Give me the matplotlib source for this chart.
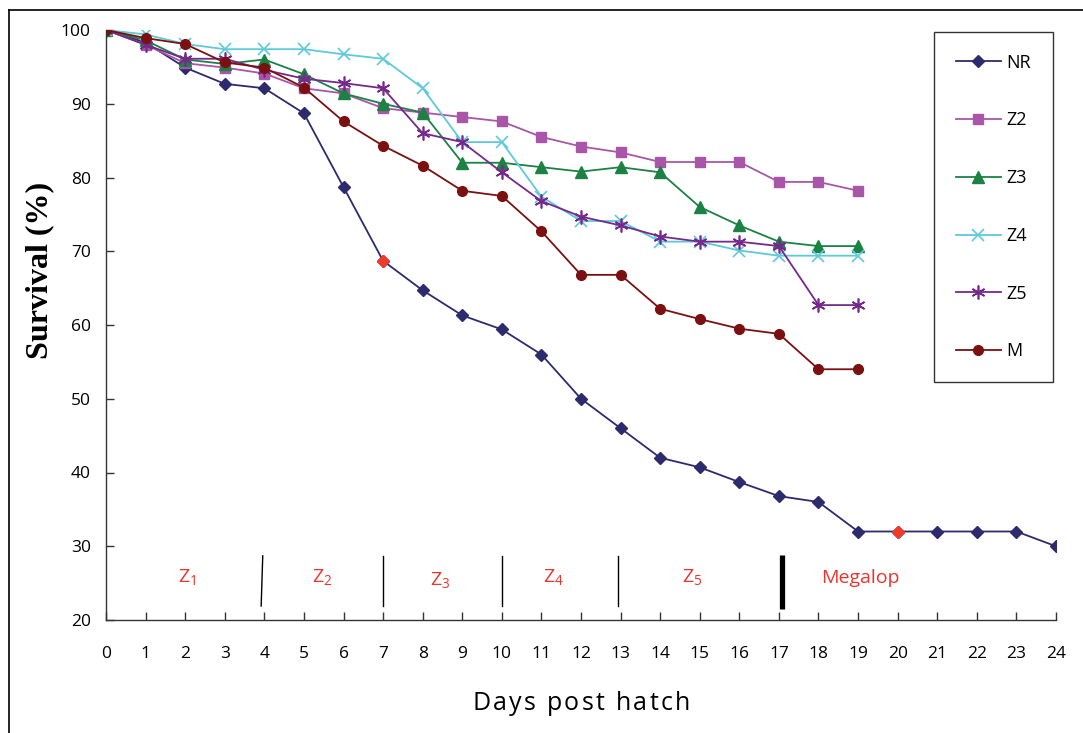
import matplotlib
matplotlib.use("Agg")
import matplotlib.pyplot as plt
from matplotlib.lines import Line2D

# Survival (%) of larvae per day post hatch, by treatment
days = list(range(0, 25))
nr = [100, 98.3, 94.9, 92.7, 92.1, 88.7, 78.7, 68.7, 64.7, 61.3, 59.4, 56.0, 50.0,
      46.0, 42.0, 40.7, 38.7, 36.8, 36.0, 32.0, 32.0, 32.0, 32.0, 32.0, 30.0]
z2 = [100, 98.0, 95.5, 94.9, 94.1, 92.1, 91.4, 89.4, 88.8, 88.2, 87.6, 85.5, 84.2,
      83.4, 82.1, 82.1, 82.1, 79.4, 79.4, 78.2]
z3 = [100, 98.6, 96.0, 95.4, 96.0, 94.0, 91.4, 90.0, 88.8, 82.0, 82.0, 81.4, 80.8,
      81.4, 80.7, 76.0, 73.5, 71.3, 70.7, 70.7]
z4 = [100, 99.4, 98.1, 97.4, 97.4, 97.4, 96.7, 96.1, 92.1, 84.8, 84.8, 77.4, 74.1,
      74.1, 71.3, 71.3, 70.1, 69.4, 69.4, 69.4]
z5 = [100, 98.0, 96.1, 96.1, 94.6, 93.4, 92.8, 92.1, 86.0, 84.8, 80.7, 76.8, 74.7,
      73.5, 72.0, 71.3, 71.3, 70.7, 62.7, 62.7]
m = [100, 98.9, 98.1, 95.6, 94.9, 92.2, 87.6, 84.3, 81.6, 78.2, 77.5, 72.7, 66.8,
     66.8, 62.2, 60.8, 59.5, 58.8, 54.0, 54.0]
nr_highlight_days = [7, 20]

stage_labels = ["Z$_\\mathregular{1}$", "Z$_\\mathregular{2}$", "Z$_\\mathregular{3}$",
                "Z$_\\mathregular{4}$", "Z$_\\mathregular{5}$", "Megalop"]
stage_label_x = [2.05, 5.45, 8.45, 11.3, 14.8, 19.05]
stage_label_y = [25.7, 25.7, 25.3, 25.7, 25.7, 25.7]

plt.rcParams["font.family"] = ["Open Sans", "DejaVu Sans"]
plt.rcParams["mathtext.fontset"] = "custom"
plt.rcParams["mathtext.rm"] = "Open Sans"

fig = plt.figure(figsize=(10.83, 7.33), dpi=100)
ax = fig.add_axes([106 / 1083, 1 - 620 / 733, 950 / 1083, 590 / 733])

series = [
    ("NR", nr, "#2e2a6e", dict(marker="D", ms=6.5)),
    ("Z2", z2, "#a956a8", dict(marker="s", ms=6.5)),
    ("Z3", z3, "#1b8244", dict(marker="^", ms=8)),
    ("Z4", z4, "#5ec9d9", dict(marker="x", ms=8, mew=1.2)),
    ("Z5", z5, "#76288c", dict(marker=(6, 2, 0), ms=10, mew=1.2)),
    ("M", m, "#7b1010", dict(marker="o", ms=7)),
]
for name, vals, col, mk in series:
    ax.plot(days[:len(vals)], vals, color=col, lw=1.3, label=name,
            markerfacecolor=col, markeredgecolor=col, **mk)

ax.plot(nr_highlight_days, [nr[d] for d in nr_highlight_days], linestyle="none",
        marker="D", ms=6.5, color="#f03a2a", zorder=5)

# stage boundaries
ax.plot([3.96, 3.92], [28.7, 21.9], color="black", lw=1.0)
for xb in [7, 10, 12.93]:
    ax.plot([xb, xb], [28.7, 21.9], color="black", lw=1.0)
ax.plot([17.07, 17.07], [28.8, 21.5], color="black", lw=3.8, solid_capstyle="butt")

for lab, xl, yl in zip(stage_labels, stage_label_x, stage_label_y):
    ax.text(xl, yl, lab, color="#e8352d", fontsize=14, ha="center", va="center")

ax.set_xlim(0, 24)
ax.set_ylim(20, 100)
ax.set_xticks(range(0, 25))
ax.set_yticks(range(20, 101, 10))
ax.tick_params(direction="in", length=6, width=1, color="#333333",
               labelsize=12.5, colors="black")
ax.tick_params(axis="y", pad=11)
ax.tick_params(axis="x", pad=19)
for s in ["top", "right"]:
    ax.spines[s].set_visible(False)
for s in ["left", "bottom"]:
    ax.spines[s].set_color("#333333")
    ax.spines[s].set_linewidth(1.0)

fig.text(40 / 1083, 1 - 270 / 733, "Survival (%)", rotation=90, ha="center",
         va="center", fontsize=23, fontweight="bold", family="Liberation Serif")

# x-axis title drawn letter by letter with extra tracking
xtitle = "Days post hatch"
fig.canvas.draw()
renderer = fig.canvas.get_renderer()
tracking = 2.2  # px between letters
pieces = []
total = 0.0
for ch in xtitle:
    t = fig.text(0, 1 - 704 / 733, ch, fontsize=18, va="center", ha="left")
    w = t.get_window_extent(renderer).width if ch != " " else 7.0
    pieces.append((t, w))
    total += w + tracking
total -= tracking
xpos = 581 - total / 2
for t, w in pieces:
    t.set_x(xpos / 1083)
    xpos += w + tracking

leg = ax.legend(loc="upper left", bbox_to_anchor=(934 / 1083, 1 - 32 / 733),
                bbox_transform=fig.transFigure, borderaxespad=0, frameon=True,
                fancybox=False, edgecolor="black", fontsize=13, labelspacing=2.2,
                handlelength=2.5, handletextpad=0.3, borderpad=1.2)
leg.get_frame().set_linewidth(1.0)

# outer frame
fig.add_artist(Line2D([8.5 / 1083, 8.5 / 1083], [0, 1 - 9.5 / 733],
                      transform=fig.transFigure, color="black", lw=1.2))
fig.add_artist(Line2D([8.5 / 1083, 1], [1 - 9.5 / 733, 1 - 9.5 / 733],
                      transform=fig.transFigure, color="black", lw=1.2))

fig.savefig("out.png", dpi=100)
